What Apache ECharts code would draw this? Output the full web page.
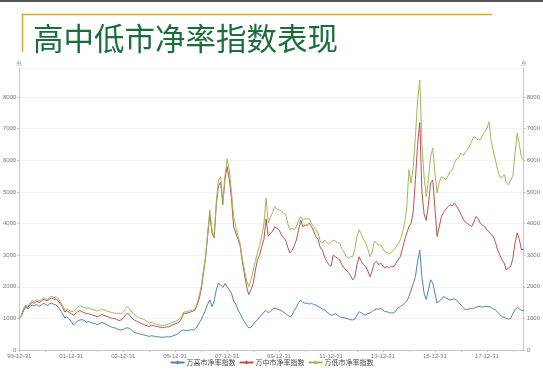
<!DOCTYPE html>
<html><head><meta charset="utf-8">
<script src="https://cdn.jsdelivr.net/npm/echarts@6/dist/echarts.min.js"></script>
<style>html,body{margin:0;padding:0;background:#fff}#c{width:543px;height:372px}</style>
</head><body><div id="c"></div>
<script>
// Monthly observations, 1999-12 .. 2019-05
const startYear = 1999, startMonth = 12, nMonths = 234;
const categories = [];
for (let i = 0; i < nMonths; i++) {
  const t = startMonth - 1 + i;
  const y = startYear + Math.floor(t / 12), m = (t % 12) + 1;
  categories.push(String(y % 100).padStart(2, '0') + '-' + String(m).padStart(2, '0'));
}
const seriesNames = ['万高市净率指数', '万中市净率指数', '万低市净率指数'];
const highPB = [
1000,1080,1250,1350,1300,1380,1420,1400,1450,1380,1420,1470,
1450,1400,1460,1480,1440,1420,1350,1250,1150,1010,1050,980,
900,790,850,920,950,960,930,880,900,870,850,840,
800,830,870,850,820,780,740,720,700,680,640,630,
650,690,700,680,620,560,540,520,500,490,470,450,
430,450,440,420,420,410,400,410,420,410,420,450,
470,510,560,620,630,610,620,640,630,650,730,850,
950,1100,1270,1450,1580,1370,1550,1900,2120,2050,1980,2100,
2000,1900,1800,1550,1450,1270,1150,1000,900,780,700,720,
800,900,950,1050,1110,1200,1250,1180,1220,1300,1330,1300,
1270,1250,1200,1150,1100,1050,1100,1250,1350,1500,1580,1500,
1480,1480,1450,1480,1430,1430,1380,1350,1300,1270,1210,1150,
1100,1110,1150,1100,1050,1030,1020,1000,980,960,950,980,
1100,1210,1180,1120,1110,1150,1170,1220,1270,1300,1290,1320,
1260,1210,1210,1180,1170,1170,1250,1330,1370,1420,1480,1550,
1690,1900,2100,2320,2800,3160,2300,1800,1600,1900,2220,2120,
1800,1480,1550,1600,1690,1650,1620,1580,1600,1620,1580,1500,
1420,1350,1270,1290,1300,1320,1320,1350,1380,1370,1360,1380,
1370,1370,1350,1300,1270,1200,1120,1050,1030,1000,980,1000,
1150,1270,1350,1300,1250,1230
];
const midPB = [
1000,1100,1300,1400,1350,1450,1500,1480,1550,1500,1530,1600,
1580,1550,1620,1650,1600,1620,1550,1450,1350,1200,1250,1180,
1150,1100,1150,1220,1250,1210,1180,1150,1150,1120,1100,1080,
1050,1080,1120,1100,1075,1050,1020,1000,990,970,930,950,
1000,1100,1170,1100,1000,950,920,880,850,820,790,770,
740,780,770,740,740,720,700,720,730,730,760,800,
830,850,900,1000,1170,1150,1180,1200,1220,1250,1400,1600,
1900,2400,2900,3600,4300,3700,3550,4600,5200,5300,4600,5400,
5800,5400,4800,3900,3700,3500,3300,2800,2400,2000,1750,1900,
2100,2500,2850,3000,3270,3500,4150,3600,3700,3750,3900,3850,
3800,3650,3550,3480,3250,3070,3150,3300,3480,3800,4110,3900,
3950,3950,4010,3900,3750,3590,3500,3250,3160,2950,2800,2700,
2650,3000,2950,2900,2850,2700,2600,2530,2450,2350,2220,2300,
2700,2950,2800,2700,2640,2500,2320,2500,2750,2800,2700,2750,
2650,2600,2640,2600,2650,2640,2750,2850,2950,3200,3480,3700,
3900,4010,4400,5400,6500,7200,5000,4300,4100,4600,5280,5380,
4500,3590,3900,4220,4350,4450,4530,4600,4550,4650,4550,4430,
4300,4150,4050,4000,3950,3900,4050,4220,4150,4010,3950,3900,
3800,3750,3650,3590,3400,3160,3000,2850,2750,2530,2600,2640,
2900,3380,3700,3500,3160,3200
];
const lowPB = [
1000,1100,1320,1420,1380,1500,1560,1520,1600,1550,1580,1650,
1620,1600,1660,1700,1650,1690,1620,1520,1400,1250,1300,1250,
1220,1210,1280,1350,1400,1370,1340,1320,1330,1300,1280,1260,
1230,1260,1300,1270,1250,1220,1200,1180,1170,1160,1150,1140,
1200,1300,1370,1300,1200,1120,1080,1030,1000,980,950,900,
850,880,850,820,800,790,770,790,800,820,850,880,
900,930,980,1050,1210,1200,1230,1250,1260,1300,1450,1690,
2000,2500,2950,3700,4430,3800,3590,4700,5380,5480,4650,5500,
6050,5700,5000,4220,3900,3600,3380,2900,2530,2200,2000,2220,
2500,2800,3070,3300,3590,4000,4800,4010,4200,4350,4530,4450,
4430,4400,4330,4300,4000,3800,3850,3800,3900,4100,4220,4100,
4150,4150,4150,4000,3900,3800,3700,3450,3380,3480,3400,3350,
3400,3480,3450,3400,3380,3200,3100,2950,2900,2950,2950,3200,
3600,3800,3650,3500,3380,3200,2950,3100,3430,3400,3300,3330,
3200,3100,3070,3050,3100,3160,3250,3350,3480,3700,4010,4500,
5700,5270,5800,6750,7900,8540,6540,5480,4850,5400,6100,6390,
5600,4970,5300,5480,5450,5380,5500,5650,5700,5900,6050,6100,
6230,6150,6250,6330,6450,6600,6750,6700,6650,6650,6800,6900,
7000,7220,6600,6300,6000,5700,5480,5450,5550,5300,5220,5380,
5500,6200,6860,6500,6100,6000
];
const yTicks = [0,1000,2000,3000,4000,5000,6000,7000,8000];

const chart = echarts.init(document.getElementById('c'));
const axisLabelStyle = { fontSize: 6, color: '#777', fontFamily: 'Liberation Sans' };
const yAxisBase = (pos) => ({
  type: 'value', position: pos, min: 0, max: 8920, interval: 1000,
  name: '点', nameGap: 2, nameTextStyle: { fontSize: 6, color: '#999', align: 'center', padding: 0 },
  axisLine: { show: true, lineStyle: { color: '#c8c8c8', width: 1 } },
  axisTick: { show: true, length: 2, lineStyle: { color: '#c8c8c8' } },
  axisLabel: Object.assign({ margin: 3, showMaxLabel: false, formatter: (v) => String(v) }, axisLabelStyle),
  splitLine: { show: pos === 'left', lineStyle: { color: '#f2f2f2', width: 1 } }
});
chart.setOption({
  animation: false,
  backgroundColor: '#fff',
  graphic: [
    { type: 'rect', shape: { x: 0, y: 0, width: 543, height: 2 }, style: { fill: '#555' } },
    { type: 'line', shape: { x1: 22, y1: 14.5, x2: 492, y2: 14.5 }, style: { stroke: '#d9a830', lineWidth: 1.5 } },
    { type: 'line', shape: { x1: 22.5, y1: 14, x2: 22.5, y2: 52 }, style: { stroke: '#d9a830', lineWidth: 1.5 } },
    { type: 'text', left: 33, top: 23, style: { text: '高中低市净率指数表现', font: '30.5px "Noto Sans CJK SC"', fill: '#1b6d3c' } }
  ],
  grid: { left: 16, right: 16, top: 68, bottom: 22, containLabel: false },
  legend: {
    data: seriesNames, bottom: 1, left: 'center', itemWidth: 14, itemHeight: 5, itemGap: 3,
    textStyle: { fontSize: 7, color: '#444', fontFamily: 'Noto Sans CJK SC', padding: [0,0,0,-3] }
  },
  xAxis: {
    type: 'category', data: categories, boundaryGap: false,
    axisLine: { lineStyle: { color: '#c8c8c8' } },
    axisTick: { show: true, length: 2, interval: (i) => i % 12 === 0, lineStyle: { color: '#c8c8c8' } },
    axisLabel: Object.assign({ margin: 3, interval: (i) => i % 24 === 0,
      formatter: (v) => v.slice(0, 2) + '-12-31' }, axisLabelStyle),
    splitLine: { show: false }
  },
  yAxis: [yAxisBase('left'), yAxisBase('right')],
  series: [
    { name: seriesNames[0], type: 'line', data: highPB, symbol: 'diamond', symbolSize: 4, showSymbol: false,
      lineStyle: { width: 1, color: '#4f81bd' }, itemStyle: { color: '#4f81bd' } },
    { name: seriesNames[1], type: 'line', data: midPB, symbol: 'diamond', symbolSize: 4, showSymbol: false,
      lineStyle: { width: 1, color: '#c0504d' }, itemStyle: { color: '#c0504d' } },
    { name: seriesNames[2], type: 'line', data: lowPB, symbol: 'diamond', symbolSize: 4, showSymbol: false,
      lineStyle: { width: 1, color: '#9bbb59' }, itemStyle: { color: '#9bbb59' } }
  ]
});
</script></body></html>
